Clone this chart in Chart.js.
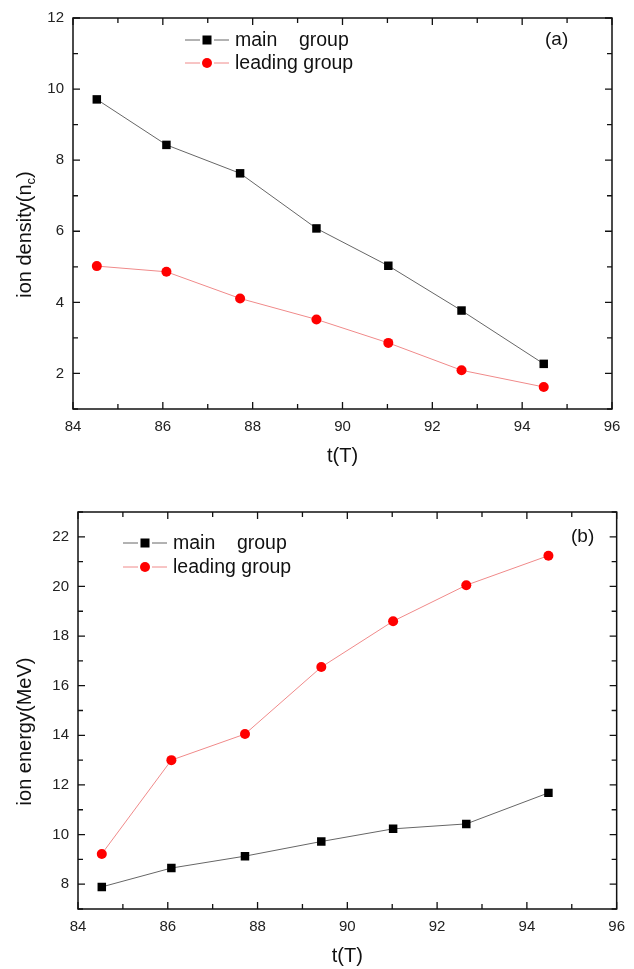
<!DOCTYPE html>
<html>
<head>
<meta charset="utf-8">
<script src="https://cdn.jsdelivr.net/npm/chart.js@4.4.1/dist/chart.umd.min.js"></script>
<style>
  body { margin: 0; background: #fff; }
  canvas { display: block; }
</style>
</head>
<body>
<canvas id="densityChart" width="634" height="480"></canvas>
<canvas id="energyChart" width="634" height="489"></canvas>
<script>
// data
var tValues = [84.53, 86.08, 87.72, 89.42, 91.02, 92.65, 94.48];
var densityMain = [9.71, 8.43, 7.63, 6.08, 5.03, 3.77, 2.27];
var densityLeading = [5.02, 4.86, 4.11, 3.52, 2.86, 2.09, 1.62];
var energyMain = [7.89, 8.65, 9.13, 9.72, 10.23, 10.43, 11.68];
var energyLeading = [9.22, 13.0, 14.05, 16.75, 18.6, 20.05, 21.24];
var seriesNames = ['main    group', 'leading group'];

var FONT = "'Liberation Sans', Arial, sans-serif";
Chart.defaults.font.family = FONT;
Chart.defaults.color = '#222';

function toPoints(ys) {
    return tValues.map(function(t, i) { return { x: t, y: ys[i] }; });
}

function makeDatasets(mainVals, leadVals) {
    return [{
        label: seriesNames[0],
        data: toPoints(mainVals),
        borderColor: '#666',
        borderWidth: 1,
        pointStyle: 'rect',
        pointRadius: 6,
        pointBackgroundColor: '#000',
        pointBorderColor: '#000',
        pointBorderWidth: 0
    }, {
        label: seriesNames[1],
        data: toPoints(leadVals),
        borderColor: '#f08a8a',
        borderWidth: 1,
        pointStyle: 'circle',
        pointRadius: 5,
        pointBackgroundColor: '#f00',
        pointBorderColor: '#f00',
        pointBorderWidth: 0
    }];
}

// frame, inward ticks, legend, axis titles, panel tag
var framePlugin = {
    id: 'frame',
    afterDraw: function(chart, args, opts) {
        var ctx = chart.ctx, a = chart.chartArea;
        var xs = chart.scales.x, ys = chart.scales.y;
        ctx.save();
        ctx.strokeStyle = '#111';
        ctx.lineWidth = 1.5;
        ctx.strokeRect(a.left, a.top, a.right - a.left, a.bottom - a.top);

        ctx.lineWidth = 1.3;
        ctx.beginPath();
        xs.ticks.forEach(function(t) {
            var px = xs.getPixelForValue(t.value);
            var len = t.value % 2 === 0 ? 7 : 5;
            ctx.moveTo(px, a.bottom); ctx.lineTo(px, a.bottom - len);
            ctx.moveTo(px, a.top); ctx.lineTo(px, a.top + len);
        });
        ys.ticks.forEach(function(t) {
            var py = ys.getPixelForValue(t.value);
            var len = t.value % 2 === 0 ? 7 : 5;
            ctx.moveTo(a.left, py); ctx.lineTo(a.left + len, py);
            ctx.moveTo(a.right, py); ctx.lineTo(a.right - len, py);
        });
        ctx.stroke();

        // legend
        ctx.font = '19.5px ' + FONT;
        ctx.textBaseline = 'middle';
        ctx.textAlign = 'left';
        chart.data.datasets.forEach(function(ds, i) {
            var ly = opts.legendY + i * opts.legendGap;
            var lx = opts.legendX;
            ctx.strokeStyle = ds.borderColor;
            ctx.lineWidth = 1;
            ctx.beginPath();
            ctx.moveTo(lx, ly); ctx.lineTo(lx + 15, ly);
            ctx.moveTo(lx + 29, ly); ctx.lineTo(lx + 44, ly);
            ctx.stroke();
            ctx.fillStyle = ds.pointBackgroundColor;
            if (ds.pointStyle === 'rect') {
                ctx.fillRect(lx + 22 - 4.5, ly - 4.5, 9, 9);
            } else {
                ctx.beginPath();
                ctx.arc(lx + 22, ly, 5, 0, Math.PI * 2);
                ctx.fill();
            }
            ctx.fillStyle = '#111';
            ctx.fillText(ds.label, lx + 50, ly + 1);
        });

        // panel tag
        ctx.font = '19px ' + FONT;
        ctx.fillText(opts.tag, opts.tagX, opts.tagY);

        // x title
        ctx.font = '20px ' + FONT;
        ctx.textAlign = 'center';
        ctx.fillText('t(T)', (a.left + a.right) / 2, a.bottom + 47);

        // y title (with optional subscript), sits a bit below the plot centre
        ctx.translate(opts.yTitleX, (a.top + a.bottom) / 2 + 21);
        ctx.rotate(-Math.PI / 2);
        ctx.textAlign = 'left';
        var main = opts.yTitle, sub = opts.yTitleSub || '', tail = opts.yTitleTail || '';
        ctx.font = '20px ' + FONT;
        var w1 = ctx.measureText(main).width;
        var w3 = ctx.measureText(tail).width;
        ctx.font = '13px ' + FONT;
        var w2 = ctx.measureText(sub).width;
        var x0 = -(w1 + w2 + w3) / 2;
        ctx.font = '20px ' + FONT;
        ctx.fillText(main, x0, 0);
        ctx.font = '13px ' + FONT;
        ctx.fillText(sub, x0 + w1, 6);
        ctx.font = '20px ' + FONT;
        ctx.fillText(tail, x0 + w1 + w2, 0);
        ctx.restore();
    }
};

function makeChart(id, mainVals, leadVals, yMin, yMax, axisW, axisH, pad, frameOpts) {
    return new Chart(document.getElementById(id), {
        type: 'line',
        data: { datasets: makeDatasets(mainVals, leadVals) },
        plugins: [framePlugin],
        options: {
            responsive: false,
            animation: false,
            layout: { padding: pad },
            plugins: {
                legend: { display: false },
                tooltip: { enabled: false },
                frame: frameOpts
            },
            scales: {
                x: {
                    type: 'linear',
                    min: 84, max: 96,
                    grid: { display: false, drawTicks: false },
                    border: { display: false },
                    ticks: {
                        stepSize: 1, autoSkip: false, maxRotation: 0, padding: 9,
                        font: { size: 15 },
                        callback: function(v) { return v % 2 === 0 ? v : ''; }
                    },
                    afterFit: function(s) { s.height = axisH; }
                },
                y: {
                    min: yMin, max: yMax,
                    grid: { display: false, drawTicks: false },
                    border: { display: false },
                    ticks: {
                        stepSize: 1, autoSkip: false, padding: 9,
                        font: { size: 15 },
                        callback: function(v) { return v % 2 === 0 ? v : ''; }
                    },
                    afterFit: function(s) { s.width = axisW; }
                }
            }
        }
    });
}

makeChart('densityChart', densityMain, densityLeading, 1, 12, 73, 71,
    { left: 0, right: 22, top: 13, bottom: 0 },
    { legendX: 185, legendY: 40, legendGap: 23, tag: '(a)', tagX: 545, tagY: 40,
      yTitleX: 25, yTitle: 'ion density(n', yTitleSub: 'c', yTitleTail: ')' });

makeChart('energyChart', energyMain, energyLeading, 7, 23, 78, 60,
    { left: 0, right: 17, top: 32, bottom: 0 },
    { legendX: 123, legendY: 63, legendGap: 24, tag: '(b)', tagX: 571, tagY: 57,
      yTitleX: 25, yTitle: 'ion energy(MeV)' });
</script>
</body>
</html>
